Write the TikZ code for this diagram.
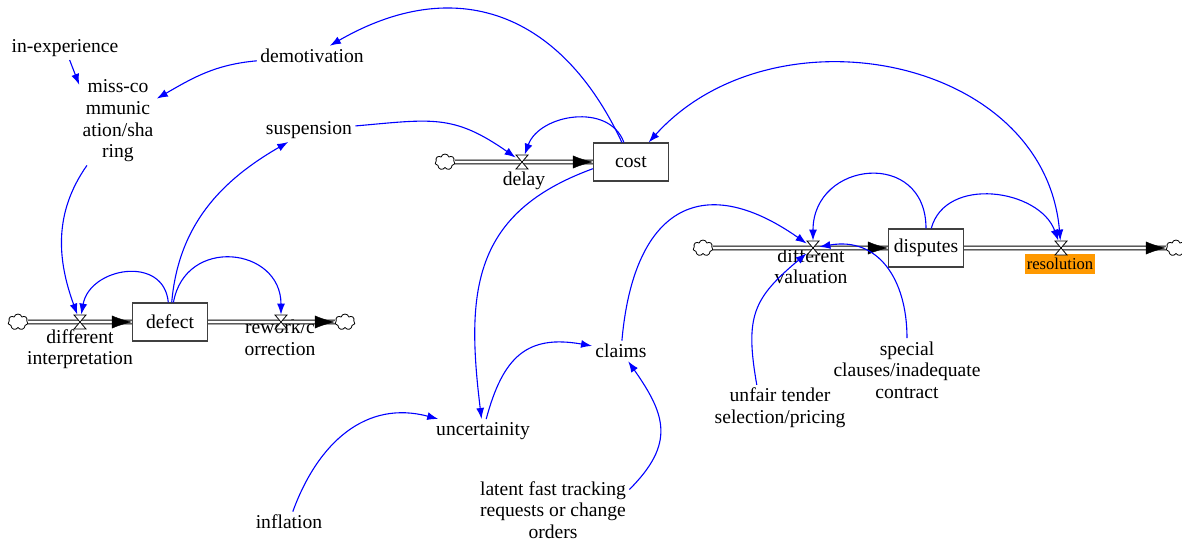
\documentclass[tikz,border=0pt]{standalone}
\usepackage{fontspec}
\setmainfont{Liberation Serif}
\usepackage{tikz}
\usetikzlibrary{arrows.meta,shapes.symbols}
\definecolor{resorange}{RGB}{255,153,0}

\begin{document}
\begin{tikzpicture}[x=0.5pt, y=0.5pt,
  >={Latex[length=5.5pt,width=4pt]},
  txt/.style={align=center, inner sep=1.5pt, font=\fontsize{9.8}{10.8}\selectfont},
  stock/.style={txt, draw=black!75, line width=0.6pt, minimum width=37.5pt, minimum height=19pt, inner sep=0pt},
  valvept/.style={inner sep=0pt, minimum width=6pt, minimum height=7pt},
  sink/.style={cloud, cloud puffs=7, draw, line width=0.4pt, minimum width=10pt, minimum height=8pt, inner sep=0pt},
  pipe/.style={draw=black, line width=0.5pt, double=white, double distance=1.4pt},
  pipetip/.style={white, line width=0.2pt, -{Latex[length=10pt,width=6.5pt,color=black]}},
  link/.style={blue, line width=0.55pt, ->},
  valve/.pic={\draw[fill=white, line width=0.4pt] (-6,-7) -- (6,-7) -- (-6,7) -- (6,7) -- cycle;}
]
  \useasboundingbox (0,0) rectangle (1182,542);

  % auxiliaries
  \node[txt] (inexp) at (65,494) {in-experience};
  \node[txt] (miss) at (118,421) {miss-co\\mmunic\\ation/sha\\ring};
  \node[txt] (demot) at (312,486) {demotivation};
  \node[txt] (susp) at (309,412) {suspension};
  \node[txt] (claims) at (621,191) {claims};
  \node[txt] (uncert) at (483,111) {uncertainity};
  \node[txt] (infl) at (289,20) {inflation};
  \node[txt] (latent) at (553,32) {latent fast tracking\\requests or change\\orders};
  \node[txt] (unfair) at (780,134) {unfair tender\\selection/pricing};
  \node[txt] (special) at (907,172) {special\\clauses/inadequate\\contract};

  % stocks, valves, clouds
  \node[stock] (defect) at (170,220) {defect};
  \node[valvept] (dint) at (80,220) {};
  \node[sink] (src1) at (18,220) {};
  \node[txt] (dintlab) at (80,193) {different\\interpretation};
  \node[valvept] (rework) at (281,220) {};
  \node[sink] (snk1) at (345,220) {};
  \node[txt] (reworklab) at (280,204) {rework/c\\orrection};

  \node[stock] (cost) at (631,380) {cost};
  \node[valvept] (delay) at (522,380) {};
  \node[sink] (src2) at (445,380) {};
  \node[txt] (delaylab) at (524,361) {delay};

  \node[stock] (disputes) at (926,294) {disputes};
  \node[valvept] (dval) at (813,294) {};
  \node[sink] (src3) at (703,294) {};
  \node[txt] (dvallab) at (811,276) {different\\valuation};
  \node[valvept] (resol) at (1061,294) {};
  \node[sink] (snk2) at (1176,294) {};
  \node[txt, fill=resorange, font=\fontsize{8.3}{9}\selectfont, inner xsep=0.7pt, inner ysep=2pt] (resollab) at (1060,278) {resolution};

  % flows
  \draw[pipe] (src1) -- (defect);
  \draw[pipetip] (dint) -- (defect);
  \draw[pipe] (defect) -- (snk1);
  \draw[pipetip] (rework) -- (snk1);
  \draw[pipe] (src2) -- (cost);
  \draw[pipetip] (delay) -- (cost);
  \draw[pipe] (src3) -- (disputes);
  \draw[pipetip] (dval) -- (disputes);
  \draw[pipe] (disputes) -- (snk2);
  \draw[pipetip] (resol) -- (snk2);
  \foreach \v in {dint,rework,delay,dval,resol}
    \pic at (\v) {valve};

  % links
  \draw[link] (inexp) to (miss.137);
  \draw[link] (demot) to[out=185, in=30] (miss);
  \draw[link] (cost) to[out=115, in=30, looseness=1.2] (demot);
  \draw[link] (miss) to[out=235, in=110] (dint);
  \draw[link] (defect) to[out=95, in=80, looseness=1.4] (dint);
  \draw[link] (defect) to[out=85, in=210] (susp);
  \draw[link] (defect) to[out=80, in=90, looseness=1.6] (rework);
  \draw[link] (susp) to[out=5, in=145, looseness=1.2] (delay);
  \draw[link] (cost) to[out=110, in=70, looseness=1.1] (delay);
  \draw[link] (cost.190) to[out=200, in=97, looseness=1.2] (uncert);
  \draw[link] (uncert) to[out=75, in=170, looseness=1.3] (claims);
  \draw[link] (infl) to[out=70, in=165, looseness=1.1] (uncert);
  \draw[link] (latent.15) to[out=45, in=-55, looseness=1.3] (claims);
  \draw[link] (claims) to[out=85, in=145, looseness=1.6] (dval);
  \draw[link] (disputes) to[out=90, in=90, looseness=1.8] (dval);
  \draw[link] (disputes) to[out=75, in=110, looseness=1.1] (resol);
  \draw[link, <->] (cost) to[out=48, in=95, looseness=1.12] (resol);
  \draw[link] (unfair.135) to[out=100, in=220, looseness=1.27] (dval);
  \draw[link] (special) to[out=90, in=10, looseness=1.2] (dval);
\end{tikzpicture}
\end{document}
